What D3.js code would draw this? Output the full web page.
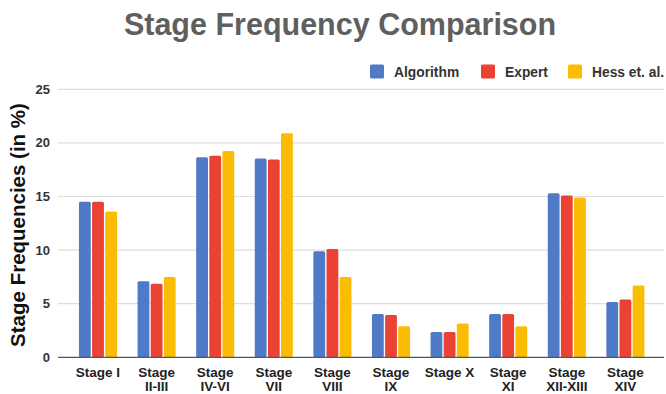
<!DOCTYPE html>
<html><head><meta charset="utf-8">
<script src="https://cdn.jsdelivr.net/npm/d3@7"></script>
<style>body{margin:0;background:#fff}svg{display:block;font-family:"Liberation Sans",Arial,sans-serif}</style>
</head><body><svg id="c" width="666" height="394"></svg>
<script>
const categories = ["Stage I","Stage II-III","Stage IV-VI","Stage VII","Stage VIII","Stage IX","Stage X","Stage XI","Stage XII-XIII","Stage XIV"];
const categoryLines = [["Stage I"],["Stage","II-III"],["Stage","IV-VI"],["Stage","VII"],["Stage","VIII"],["Stage","IX"],["Stage X"],["Stage","XI"],["Stage","XII-XIII"],["Stage","XIV"]];
const seriesNames = ["Algorithm","Expert","Hess et. al."];
const algorithm = [14.5,7.1,18.65,18.55,9.9,4.05,2.35,4.05,15.3,5.15];
const expert    = [14.5,6.85,18.8,18.45,10.1,3.95,2.35,4.05,15.1,5.4];
const hess      = [13.6,7.5,19.25,20.9,7.5,2.9,3.15,2.9,14.9,6.7];
const yTicks = [0,5,10,15,20,25];
const colors = ["#4e7ac7","#ea4335","#fbbc04"];

const svg = d3.select("#c");
const series = [algorithm, expert, hess];
const y = d3.scaleLinear().domain([0,25]).range([357.3,89.3]);
const x0 = d3.scaleBand().domain(categories).range([68.7,654.7]).paddingInner(0.35).paddingOuter(0.175);
const x1 = d3.scaleBand().domain(seriesNames).range([0,x0.bandwidth()]).paddingInner(0.1);
const gridL = 58, gridR = 664;

svg.append("text").attr("x",340).attr("y",35).attr("text-anchor","middle")
  .attr("font-size",30.5).attr("font-weight","bold").attr("fill","#5f5f5f").text("Stage Frequency Comparison");

// grid
svg.append("g").selectAll("line").data(yTicks.filter(d=>d>0)).join("line")
  .attr("x1",gridL).attr("x2",gridR).attr("y1",d=>y(d)).attr("y2",d=>y(d))
  .attr("stroke","#dedede").attr("stroke-width",1.2);

// y ticks
svg.append("g").selectAll("text").data(yTicks).join("text")
  .attr("x",50).attr("y",d=>y(d)+4.5).attr("text-anchor","end")
  .attr("font-size",13).attr("font-weight","bold").attr("fill","#333").text(d=>d);

// bars
const g = svg.append("g");
categories.forEach((c,i)=>{
  series.forEach((s,j)=>{
    g.append("rect").attr("x",x0(c)+x1(seriesNames[j])).attr("y",y(s[i]))
     .attr("width",x1.bandwidth()).attr("height",y(0)-y(s[i]))
     .attr("rx",1.5).attr("fill",colors[j]);
  });
});

// baseline
svg.append("line").attr("x1",gridL).attr("x2",gridR).attr("y1",y(0)).attr("y2",y(0))
  .attr("stroke","#555").attr("stroke-width",1.3);

// x labels (each line its own text element)
const xl = svg.append("g");
categories.forEach((c,i)=>{
  categoryLines[i].forEach((ln,k)=>{
    xl.append("text").attr("text-anchor","middle").attr("font-size",13.5)
      .attr("font-weight","bold").attr("fill","#222")
      .attr("x",x0(c)+x0.bandwidth()/2).attr("y",376.5+k*14.5).text(ln);
  });
});

// y title
svg.append("text").attr("transform","translate(25,225) rotate(-90)").attr("text-anchor","middle")
  .attr("font-size",20.5).attr("font-weight","bold").attr("fill","#111").text("Stage Frequencies (in %)");

// legend
const legX = [370,481,568];
seriesNames.forEach((n,j)=>{
  svg.append("rect").attr("x",legX[j]).attr("y",64.5).attr("width",14).attr("height",14).attr("rx",1.5).attr("fill",colors[j]);
  svg.append("text").attr("x",legX[j]+24).attr("y",76.5).attr("font-size",13.8).attr("font-weight","bold").attr("fill","#333").text(n);
});
</script></body></html>
